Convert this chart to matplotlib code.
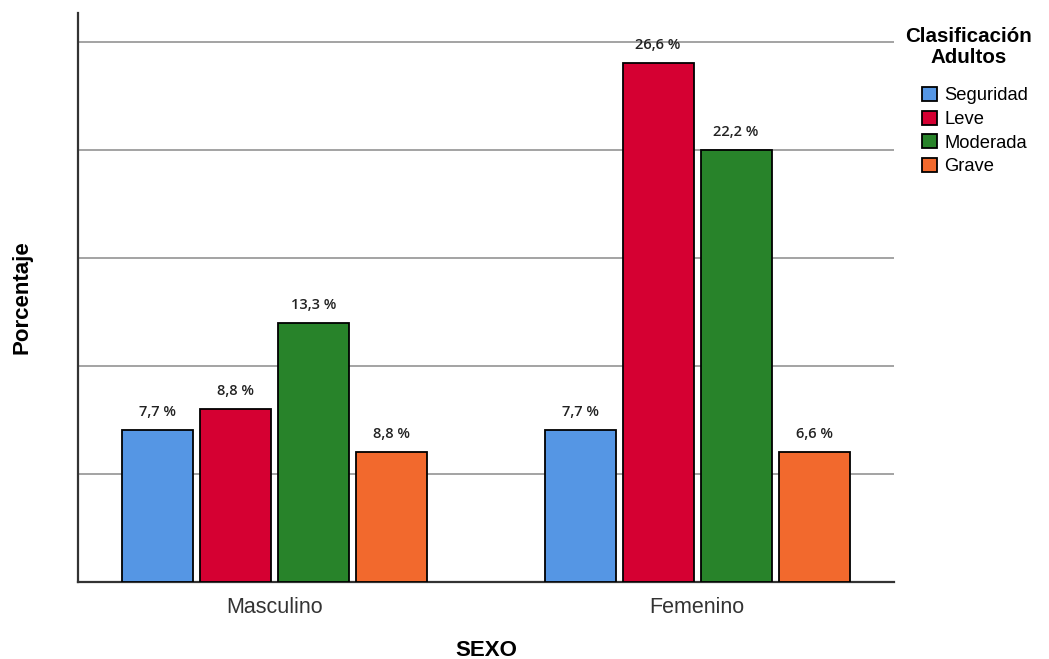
import matplotlib
matplotlib.use("Agg")
import matplotlib.pyplot as plt
import numpy as np

# ---- data ----
categories = ["Masculino", "Femenino"]
series = ["Seguridad", "Leve", "Moderada", "Grave"]
# bar heights (percent)
seguridad = [7.8, 7.8]
leve = [8.9, 26.7]
moderada = [13.3, 22.2]
grave = [6.7, 6.7]
# value labels as printed on the chart
label_seguridad = ["7,7 %", "7,7 %"]
label_leve = ["8,8 %", "26,6 %"]
label_moderada = ["13,3 %", "22,2 %"]
label_grave = ["8,8 %", "6,6 %"]

values = [seguridad, leve, moderada, grave]
labels = [label_seguridad, label_leve, label_moderada, label_grave]
colors = ["#5596E4", "#D50032", "#28832A", "#F2692D"]

W, H = 1049, 659
fig = plt.figure(figsize=(W / 100, H / 100), dpi=100)
ax = fig.add_axes([78 / W, (H - 582) / H, (894 - 78) / W, (582 - 13) / H])

x = np.arange(len(categories))
width = 0.168
step = 0.1846
handles = []
for i, (vals, labs, col) in enumerate(zip(values, labels, colors)):
    pos = x + (i - 1.5) * step
    b = ax.bar(pos, vals, width=width, color=col, edgecolor="black",
               linewidth=1.3, zorder=3, label=series[i])
    handles.append(b)
    for p, v, t in zip(pos, vals, labs):
        ax.annotate(t, (p, v), xytext=(0, 8), textcoords="offset points",
                    ha="center", va="bottom", fontsize=10.5,
                    family="Open Sans", color="#222222", fontweight="semibold")

ax.set_xlim(-0.465, 1.466)
ax.set_ylim(0, 29.27)
grid_vals = [5.556, 11.111, 16.667, 22.222, 27.778]
for g in grid_vals:
    ax.axhline(g, color="#a3a3a3", linewidth=1.4, zorder=1)
ax.set_yticks([])
ax.set_xticks(x)
ax.set_xticklabels(categories, fontsize=15.5, family="Liberation Sans", color="#333333")
ax.tick_params(axis="x", length=0, pad=11)

for s in ["top", "right"]:
    ax.spines[s].set_visible(False)
for s in ["left", "bottom"]:
    ax.spines[s].set_color("#333333")
    ax.spines[s].set_linewidth(1.6)

ax.set_xlabel("SEXO", fontsize=16, family="Liberation Sans", fontweight="bold")
ax.xaxis.set_label_coords(0.5, (582 - 650) / 569)
ax.xaxis.label.set_verticalalignment("center")
ax.set_ylabel("Porcentaje", fontsize=16, family="Liberation Sans", fontweight="bold")
ax.yaxis.set_label_coords((22 - 78) / 816, 0.5)
ax.yaxis.label.set_verticalalignment("center")

# legend title
fig.text(968.5 / W, 1 - 47 / H, "Clasificación\nAdultos", ha="center", va="center",
         multialignment="center", linespacing=1.08,
         family="Liberation Sans", fontsize=14.8, fontweight="bold")

leg = ax.legend(handles=handles, labels=series, loc="upper left",
                bbox_to_anchor=(922 / W, 1 - 87 / H), bbox_transform=fig.transFigure,
                frameon=False,
                prop={"family": "Liberation Sans", "size": 13.2},
                handlelength=0.82, handleheight=0.82, handletextpad=0.4,
                labelspacing=0.33, borderaxespad=0, borderpad=0)
for h in leg.legend_handles:
    h.set_linewidth(1.3)

fig.savefig("out.png", dpi=100)
